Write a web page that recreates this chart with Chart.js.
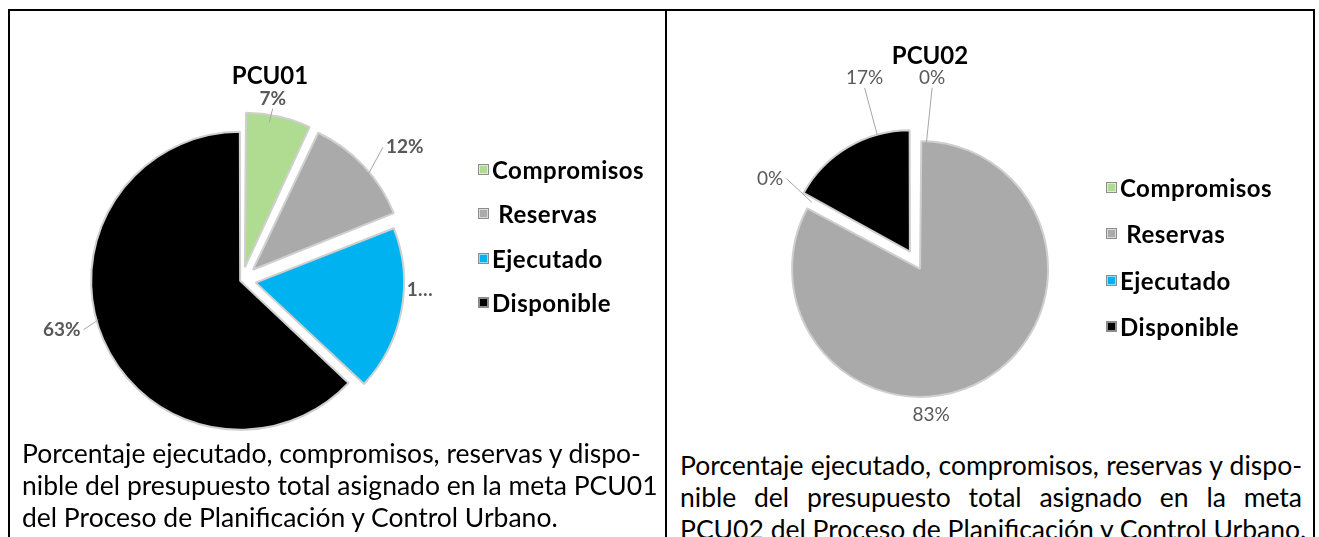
<!DOCTYPE html>
<html>
<head>
<meta charset="utf-8">
<title>PCU01 / PCU02</title>
<script src="https://cdn.jsdelivr.net/npm/chart.js@4.4.1/dist/chart.umd.min.js"></script>
<style>
  body { margin: 0; background: #fff; font-family: 'Lato', 'Open Sans', sans-serif; }
  .page { position: relative; width: 1319px; height: 537px; overflow: hidden; }
  .frame { position: absolute; left: 8px; top: 9px; width: 1303px; height: 560px; border: 2px solid #000; border-bottom: none; }
  .divider { position: absolute; left: 665px; top: 9px; width: 2px; height: 540px; background: #000; }
  canvas { position: absolute; }
  .title { position: absolute; width: 200px; text-align: center; font-weight: 700; font-size: 24px; line-height: 30px; color: #000; }
  .legend { position: absolute; margin: 0; padding: 0; list-style: none; font-weight: 700; font-size: 24px; letter-spacing: 0.5px; color: #000; }
  .legend li { display: flex; align-items: center; white-space: pre; }
  .legend .swatch { width: 9px; height: 9px; border: 1px solid #8c8c8c; box-shadow: inset 0 0 0 1px rgba(255,255,255,0.55); margin-right: 3px; }
  .caption { position: absolute; font-size: 26.5px; line-height: 32px; color: #000; white-space: nowrap; }
  .caption.justify div { text-align: justify; text-align-last: justify; }
  #pcu01Legend li { height: 44.5px; }
  #pcu02Legend li { height: 46.5px; }
</style>
</head>
<body>
<div class="page">
  <div class="frame"></div>
  <div class="divider"></div>

  <canvas id="pcu01Chart" width="654" height="470" style="left:10px; top:11px;"></canvas>
  <div class="title" style="left:170px; top:60px;">PCU01</div>
  <ul id="pcu01Legend" class="legend" style="left:478px; top:147px;"></ul>
  <div class="caption" style="left:22px; top:437px;">
    Porcentaje ejecutado, compromisos, reservas y dispo-<br>
    nible del presupuesto total asignado en la meta PCU01<br>
    del Proceso de Planificación y Control Urbano.
  </div>

  <canvas id="pcu02Chart" width="645" height="430" style="left:668px; top:11px;"></canvas>
  <div class="title" style="left:830px; top:40px;">PCU02</div>
  <ul id="pcu02Legend" class="legend" style="left:1106px; top:164px;"></ul>
  <div class="caption justify" style="left:680px; top:449px; width:622px;">
    <div>Porcentaje ejecutado, compromisos, reservas y dispo-</div>
    <div>nible del presupuesto total asignado en la meta</div>
    <div>PCU02 del Proceso de Planificación y Control Urbano.</div>
  </div>
</div>

<script>
// data
const categories = ['Compromisos', ' Reservas', 'Ejecutado', 'Disponible'];
const pcu01Values = [7, 12, 18, 63];
const pcu02Values = [0, 83, 0, 17];
const sliceColors = ['#b0dc92', '#aaaaaa', '#00b3f0', '#000000'];

// percentage labels outside the slices, with leader lines
const outsideLabels = {
    id: 'outsideLabels',
    afterDatasetsDraw(chart, args, opts) {
        const ctx = chart.ctx;
        const meta = chart.getDatasetMeta(0);
        const values = chart.data.datasets[0].data;
        const total = values.reduce((a, b) => a + b, 0);
        ctx.save();
        ctx.font = opts.font;
        ctx.textAlign = 'center';
        ctx.textBaseline = 'middle';
        ctx.lineWidth = 1;
        meta.data.forEach((arc, i) => {
            const p = arc.getProps(['x', 'y', 'startAngle', 'endAngle', 'outerRadius'], true);
            const mid = (p.startAngle + p.endAngle) / 2;
            const shift = (arc.options.offset || 0) / 4;
            const la = mid + opts.turn[i] * Math.PI / 180;
            // slice edge in the label's direction
            const ex = p.x + Math.cos(mid) * shift + Math.cos(la) * p.outerRadius;
            const ey = p.y + Math.sin(mid) * shift + Math.sin(la) * p.outerRadius;
            const lx = p.x + Math.cos(la) * opts.dist[i];
            const ly = p.y + Math.sin(la) * opts.dist[i];
            let text = Math.round(values[i] / total * 100) + '%';
            if (opts.clip[i]) text = text.slice(0, 1) + '…';
            const w = ctx.measureText(text).width;
            if (opts.leader[i]) {
                const dx = lx - ex, dy = ly - ey;
                let tx = lx, ty = ly;
                if (Math.abs(dx) - w / 2 > 0) {
                    tx = lx - Math.sign(dx) * (w / 2 + 3);
                } else {
                    ty = ly - Math.sign(dy) * 10;
                }
                if (Math.hypot(tx - ex, ty - ey) > 3) {
                    ctx.strokeStyle = opts.lineColor;
                    ctx.beginPath();
                    ctx.moveTo(ex, ey);
                    ctx.lineTo(tx, ty);
                    ctx.stroke();
                }
            }
            ctx.fillStyle = opts.color;
            ctx.fillText(text, lx, ly);
        });
        ctx.restore();
    }
};

function buildLegend(chart, listId) {
    const list = document.getElementById(listId);
    const items = Chart.overrides.pie.plugins.legend.labels.generateLabels(chart);
    items.forEach(item => {
        const li = document.createElement('li');
        const box = document.createElement('span');
        box.className = 'swatch';
        box.style.background = item.fillStyle;
        li.appendChild(box);
        li.appendChild(document.createTextNode(item.text));
        list.appendChild(li);
    });
}

const pcu01 = new Chart(document.getElementById('pcu01Chart'), {
    type: 'pie',
    data: {
        labels: categories,
        datasets: [{
            data: pcu01Values,
            backgroundColor: sliceColors,
            borderColor: '#cfcfcf',
            borderWidth: 2,
            offset: [52, 60, 56, 8],
            hoverOffset: 0
        }]
    },
    options: {
        responsive: false,
        animation: false,
        devicePixelRatio: 1,
        layout: { padding: { left: 32, right: 222, top: 91, bottom: 23 } },
        plugins: {
            legend: { display: false },
            tooltip: { enabled: false },
            outsideLabels: {
                font: 'bold 19px Lato',
                color: '#595959',
                lineColor: '#a6a6a6',
                turn: [-3, 4, -7.5, 8],
                dist: [184, 210, 178, 187],
                leader: [true, true, true, true],
                clip: [false, false, true, false]
            }
        }
    },
    plugins: [outsideLabels]
});
buildLegend(pcu01, 'pcu01Legend');

const pcu02 = new Chart(document.getElementById('pcu02Chart'), {
    type: 'pie',
    data: {
        labels: categories,
        datasets: [{
            data: pcu02Values,
            backgroundColor: sliceColors,
            borderColor: '#cfcfcf',
            borderWidth: 2,
            offset: [0, 32, 0, 48],
            hoverOffset: 0
        }]
    },
    options: {
        responsive: false,
        animation: false,
        devicePixelRatio: 1,
        layout: { padding: { left: 48, right: 197, top: 106, bottom: 34 } },
        plugins: {
            legend: { display: false },
            tooltip: { enabled: false },
            outsideLabels: {
                font: '19px Lato',
                color: '#595959',
                lineColor: '#a6a6a6',
                turn: [5, 25, 1, 15],
                dist: [185, 154, 168, 191],
                leader: [true, false, true, true],
                clip: [false, false, false, false]
            }
        }
    },
    plugins: [outsideLabels]
});
buildLegend(pcu02, 'pcu02Legend');
</script>
</body>
</html>
